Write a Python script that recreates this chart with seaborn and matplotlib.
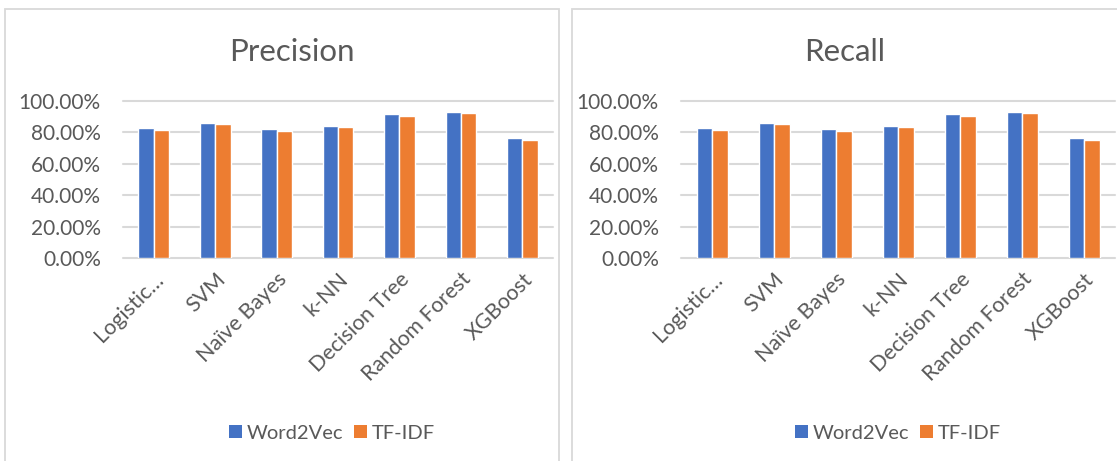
import matplotlib
matplotlib.use("Agg")
import matplotlib.pyplot as plt
import seaborn as sns
import pandas as pd
from matplotlib.patches import Rectangle, Patch
from matplotlib.ticker import FuncFormatter

# values (percent)
models = ["Logistic…", "SVM", "Naïve Bayes", "k-NN", "Decision Tree", "Random Forest", "XGBoost"]
features = ["Word2Vec", "TF-IDF"]
precision_w2v = [82.8, 86.2, 82.1, 84.2, 91.7, 93.0, 76.2]
precision_tfidf = [81.5, 85.1, 80.8, 83.2, 90.4, 92.3, 75.3]
recall_w2v = [82.8, 86.2, 82.1, 84.2, 91.7, 93.0, 76.2]
recall_tfidf = [81.5, 85.1, 80.8, 83.2, 90.4, 92.3, 75.3]

colors = ["#4472c4", "#ed7d31"]
grey = "#595959"
line = "#d9d9d9"

sns.set_theme(style="white")
plt.rcParams["font.family"] = ["Lato", "DejaVu Sans"]

W, H = 1117, 461
fig = plt.figure(figsize=(W / 100, H / 100), dpi=100)


def box(x0, y0, x1, y1):
    # pixel box (top-left origin) -> figure fraction
    return [x0 / W, 1 - y1 / H, (x1 - x0) / W, (y1 - y0) / H]


# chart area borders
fig.patches.append(Rectangle((5 / W, -0.1), (559 - 5) / W, 1.1 - 9 / H,
                             transform=fig.transFigure, fill=False,
                             edgecolor=line, lw=1.3))
fig.patches.append(Rectangle((572 / W, -0.1), 1.0, 1.1 - 9 / H,
                             transform=fig.transFigure, fill=False,
                             edgecolor=line, lw=1.3))

panels = [
    ("Precision", precision_w2v, precision_tfidf, 123, 553, 292, 332),
    ("Recall", recall_w2v, recall_tfidf, 681, 1115, 845, 898),
]

for title, w2v, tfidf, x0, x1, tx, lx in panels:
    df = pd.DataFrame({
        "model": models * 2,
        "feature": [features[0]] * len(models) + [features[1]] * len(models),
        "value": w2v + tfidf,
    })
    ax = fig.add_axes(box(x0, 101, x1, 258))
    sns.barplot(data=df, x="model", y="value", hue="feature", palette=colors,
                saturation=1, width=0.5, edgecolor="white", linewidth=1.0,
                ax=ax, legend=False)
    ax.set_xlim(-0.5, len(models) - 0.5)
    ax.set_ylim(0, 100)
    ax.set_yticks([0, 20, 40, 60, 80, 100])
    ax.yaxis.set_major_formatter(FuncFormatter(lambda v, p: f"{v:.2f}%"))
    ax.grid(axis="y", color=line, lw=1.5)
    ax.set_axisbelow(True)
    for s in ax.spines.values():
        s.set_visible(False)
    ax.set_xlabel("")
    ax.set_ylabel("")
    ax.tick_params(axis="y", length=0, pad=16, labelsize=15, labelcolor=grey)
    ax.tick_params(axis="x", length=0, pad=8, labelsize=15.5, labelcolor=grey)
    for lab in ax.get_xticklabels():
        lab.set_rotation(45)
        lab.set_ha("right")
        lab.set_rotation_mode("anchor")
    for gl in ax.get_ygridlines():
        gl.set_clip_on(False)

    fig.text(tx / W, 1 - 52 / H, title, ha="center", va="center",
             fontsize=22.5, color=grey)

    handles = [Patch(facecolor=c, edgecolor="none") for c in colors]
    fig.legend(handles, features, loc="center", bbox_to_anchor=(lx / W, 1 - 433 / H),
               ncol=2, frameon=False, fontsize=14.5, labelcolor=grey,
               handlelength=0.65, handleheight=0.65, handletextpad=0.25,
               columnspacing=0.5, borderpad=0)

fig.savefig("out.png", dpi=100, facecolor="white")
